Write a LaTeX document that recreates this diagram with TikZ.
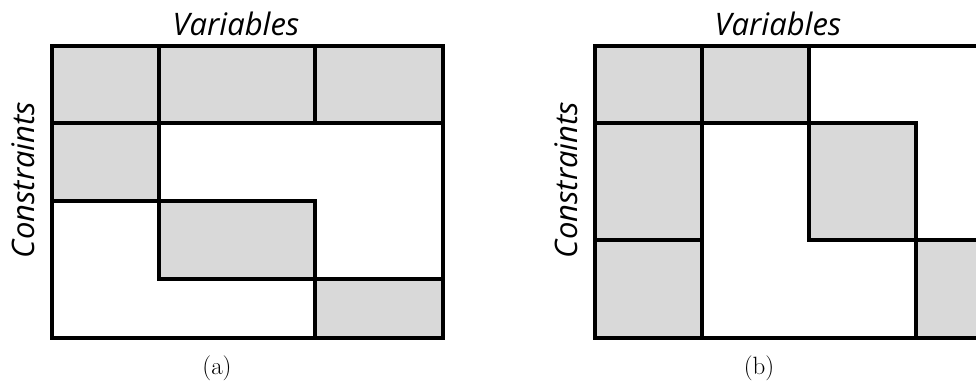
\documentclass[tikz,border=0pt]{standalone}
\usepackage{fontspec}
\newfontfamily\labelfont{Open Sans}
\definecolor{cellgray}{HTML}{D9D9D9}
\begin{document}
\begin{tikzpicture}[x=1pt,y=-1pt,
  cell/.style={fill=cellgray,draw=none},
  rule/.style={line width=3.2pt,line cap=rect,line join=miter},
  axislabel/.style={font=\labelfont\itshape\fontsize{31}{36}\selectfont,inner sep=0pt},
  caption/.style={font=\fontsize{25}{30}\selectfont,inner sep=0pt}]
\useasboundingbox (0,0) rectangle (976,383);
\begin{scope}
\clip (0,0) rectangle (976,383);
% ---- panel (a) ----
\fill[cell] (52,46) rectangle (443,123);
\fill[cell] (52,123) rectangle (159,201);
\fill[cell] (159,201) rectangle (315,279);
\fill[cell] (315,279) rectangle (443,338);
\draw[rule] (52,46) rectangle (443,338);
\draw[rule] (52,123) -- (443,123);
\draw[rule] (159,46) -- (159,279) -- (443,279);
\draw[rule] (315,46) -- (315,123);
\draw[rule] (52,201) -- (315,201) -- (315,338);
% ---- panel (b) ----
\fill[cell] (595,46) rectangle (702,338);
\fill[cell] (702,46) rectangle (809,123);
\fill[cell] (809,123) rectangle (916,240);
\fill[cell] (916,240) rectangle (990,338);
\draw[rule] (990,46) -- (595,46) -- (595,338) -- (990,338);
\draw[rule] (702,46) -- (702,338);
\draw[rule] (595,123) -- (916,123) -- (916,338);
\draw[rule] (809,46) -- (809,240) -- (990,240);
\draw[rule] (595,240) -- (702,240);
\end{scope}
% ---- labels ----
\node[axislabel] (va) at (236,24) {Variables};
\node[axislabel,rotate=90] (ca) at (23,180) {Constraints};
\node[caption] (la) at (217,368) {(a)};
\node[axislabel] (vb) at (778,24) {Variables};
\node[axislabel,rotate=90] (cb) at (566,180) {Constraints};
\node[caption] (lb) at (759,368) {(b)};
\end{tikzpicture}
\end{document}
